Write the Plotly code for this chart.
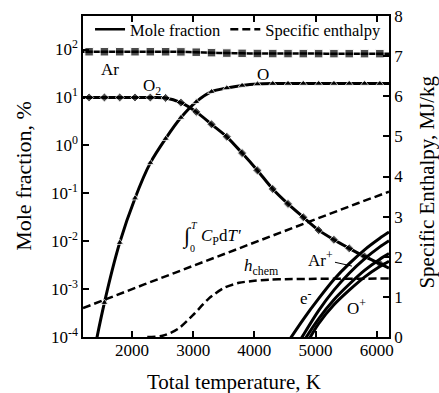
import plotly.graph_objects as go

# ---------------- data ----------------
T_main = [1200, 1300, 1550, 1800, 2050, 2300, 2550, 2800, 3050, 3300, 3550,
          3800, 4050, 4300, 4550, 4800, 5050, 5300, 5550, 5800, 6050, 6200]
ar = [90, 90, 90, 90, 90, 90, 89.9, 89.4, 88.0, 86.0, 84.3,
      83.3, 82.7, 82.4, 82.3, 82.2, 82.2, 82.1, 82.1, 82.0, 82.0, 82.0]
o2 = [10, 10, 10, 10, 10, 9.95, 9.77, 7.8, 5.0, 2.75, 1.51,
      0.69, 0.30, 0.123, 0.060, 0.0316, 0.017, 0.0107, 0.0071, 0.0048, 0.0034, 0.00275]
o = [2.5e-6, 1.4e-5, 5.2e-4, 9.3e-3, 0.079, 0.43, 1.38, 3.8, 8.1, 13.2, 15.8,
     17.8, 19.1, 19.5, 19.6, 19.6, 19.6, 19.6, 19.6, 19.6, 19.5, 19.5]

T_ion = [4550, 4800, 5050, 5300, 5550, 5800, 6050, 6200]
e_minus = [7.9e-5, 2.34e-4, 6.3e-4, 1.58e-3, 3.39e-3, 6.6e-3, 1.15e-2, 1.55e-2]
ar_plus = [3.2e-5, 1.1e-4, 3.55e-4, 9.5e-4, 2.14e-3, 4.27e-3, 7.6e-3, 1.02e-2]
o_plus = [2.2e-5, 7.9e-5, 2.4e-4, 6.0e-4, 1.26e-3, 2.45e-3, 4.2e-3, 5.5e-3]
o_minus = [1.6e-5, 5.6e-5, 1.9e-4, 4.7e-4, 9.5e-4, 1.78e-3, 2.95e-3, 3.8e-3]

T_h = [1200, 1700, 2200, 2700, 3200, 3700, 4200, 4700, 5200, 5700, 6200]
cp_int = [0.72, 1.02, 1.31, 1.60, 1.89, 2.18, 2.48, 2.77, 3.06, 3.34, 3.62]
T_hc = [2250, 2500, 2750, 3000, 3250, 3500, 3750, 4000, 4250, 4500, 5000, 5500, 6200]
h_chem = [0.0, 0.03, 0.20, 0.55, 0.95, 1.22, 1.35, 1.40, 1.43, 1.44, 1.45, 1.45, 1.46]

x_ticks = [2000, 3000, 4000, 5000, 6000]
y_ticks = [1e-4, 1e-3, 1e-2, 1e-1, 1e0, 1e1, 1e2]
y_ticktext = ["10<sup>-4</sup>", "10<sup>-3</sup>", "10<sup>-2</sup>", "10<sup>-1</sup>",
              "10<sup>0</sup>", "10<sup>1</sup>", "10<sup>2</sup>"]
y2_ticks = [0, 1, 2, 3, 4, 5, 6, 7, 8]

x_title = "Total temperature, K"
y_title = "Mole fraction, %"
y2_title = "Specific Enthalpy, MJ/kg"

# ---------------- figure ----------------
FONT = "Liberation Serif, Times New Roman, serif"
BLACK = "black"


def msize(s):
    return [0] + [s] * (len(T_main) - 2) + [0]


fig = go.Figure()

fig.add_trace(go.Scatter(x=T_main, y=ar, mode="lines+markers", showlegend=False,
                         line=dict(color=BLACK, width=2.5, shape="spline", smoothing=0.8),
                         marker=dict(symbol="square", size=msize(8.5), color=BLACK)))
fig.add_trace(go.Scatter(x=T_main, y=o2, mode="lines+markers", showlegend=False,
                         line=dict(color=BLACK, width=3, shape="spline", smoothing=0.8),
                         marker=dict(symbol="diamond", size=msize(7), color=BLACK)))
fig.add_trace(go.Scatter(x=T_main, y=o, mode="lines+markers", showlegend=False,
                         line=dict(color=BLACK, width=3, shape="spline", smoothing=0.8),
                         marker=dict(symbol="triangle-up", size=msize(7), color=BLACK)))
for ser in (e_minus, ar_plus, o_plus, o_minus):
    fig.add_trace(go.Scatter(x=T_ion, y=ser, mode="lines", showlegend=False,
                             line=dict(color=BLACK, width=3, shape="spline", smoothing=0.8)))

fig.add_trace(go.Scatter(x=T_h, y=cp_int, mode="lines", yaxis="y2", showlegend=False,
                         line=dict(color=BLACK, width=2.5, dash="8px,4px")))
fig.add_trace(go.Scatter(x=T_hc, y=h_chem, mode="lines", yaxis="y2", showlegend=False,
                         line=dict(color=BLACK, width=2.5, dash="8px,4px",
                                   shape="spline", smoothing=0.8)))

# legend entries
fig.add_trace(go.Scatter(x=[None], y=[None], mode="lines", name="Mole fraction",
                         line=dict(color=BLACK, width=2.5)))
fig.add_trace(go.Scatter(x=[None], y=[None], mode="lines", name="Specific enthalpy",
                         line=dict(color=BLACK, width=2.5, dash="8px,4px")))

ann_font = dict(family=FONT, size=17, color=BLACK)
annotations = [
    dict(x=1640, y=1.59, xref="x", yref="y", text="Ar", showarrow=False, font=ann_font),
    dict(x=2330, y=1.21, xref="x", yref="y", text="O<sub>2</sub>", showarrow=False, font=ann_font),
    dict(x=4133, y=1.48, xref="x", yref="y", text="O", showarrow=False, font=ann_font),
    dict(x=2899, y=2.52, xref="x", yref="y2", text="∫",
         showarrow=False, font=dict(family=FONT, size=22, color=BLACK)),
    dict(x=3014, y=2.78, xref="x", yref="y2", text="<i>T</i>",
         showarrow=False, font=dict(family=FONT, size=10, color=BLACK)),
    dict(x=2997, y=2.20, xref="x", yref="y2", text="0",
         showarrow=False, font=dict(family=FONT, size=10, color=BLACK)),
    dict(x=3095, y=2.50, xref="x", yref="y2", xanchor="left",
         text="<i>C</i><sub>P</sub>d<i>T'</i>", showarrow=False, font=ann_font),
    dict(x=3798, y=1.74, xref="x", yref="y2", xanchor="left",
         text="<i>h</i><sub>chem</sub>", showarrow=False, font=ann_font),
    dict(x=5595, y=-2.52, xref="x", yref="y", text="Ar<sup>+</sup>", showarrow=True,
         ax=-31, ay=-7, arrowhead=0, arrowwidth=1, arrowcolor=BLACK, font=ann_font),
    dict(x=4840, y=-3.17, xref="x", yref="y", text="e<sup>-</sup>", showarrow=False, font=ann_font),
    dict(x=5661, y=-3.38, xref="x", yref="y", text="O<sup>+</sup>", showarrow=False, font=ann_font),
    # axis titles
    dict(x=0.493, y=-0.140, xref="paper", yref="paper", xanchor="center", yanchor="middle",
         text=x_title, showarrow=False, font=dict(family=FONT, size=21, color=BLACK)),
    dict(x=-0.193, y=0.502, xref="paper", yref="paper", xanchor="center", yanchor="middle",
         text=y_title, showarrow=False, textangle=-90,
         font=dict(family=FONT, size=22, color=BLACK)),
    dict(x=1.124, y=0.484, xref="paper", yref="paper", xanchor="center", yanchor="middle",
         text=y2_title, showarrow=False, textangle=-90,
         font=dict(family=FONT, size=21, color=BLACK)),
]

axis_common = dict(showline=True, linecolor=BLACK, linewidth=1.5, ticks="inside",
                   ticklen=6, tickwidth=1.5, tickcolor=BLACK, showgrid=False, zeroline=False,
                   automargin=False,
                   tickfont=dict(family=FONT, size=17, color=BLACK))

fig.update_layout(
    width=439, height=393,
    margin=dict(l=83, r=50, t=16, b=56),
    paper_bgcolor="white", plot_bgcolor="white",
    font=dict(family=FONT, size=16, color=BLACK),
    showlegend=True,
    legend=dict(orientation="h", x=0.023, y=1.012, xanchor="left", yanchor="top",
                bgcolor="rgba(0,0,0,0)", font=dict(family=FONT, size=16.5, color=BLACK),
                tracegroupgap=0),
    xaxis=dict(range=[1200, 6200], tickvals=x_ticks, mirror="ticks", ticklabelstandoff=-3,
               **axis_common),
    yaxis=dict(type="log", range=[-4, 2.70], tickvals=y_ticks, ticktext=y_ticktext,
               **axis_common),
    yaxis2=dict(overlaying="y", side="right", range=[0, 8], tickvals=y2_ticks,
                **axis_common),
    annotations=annotations,
)

fig.write_html("out.html")
